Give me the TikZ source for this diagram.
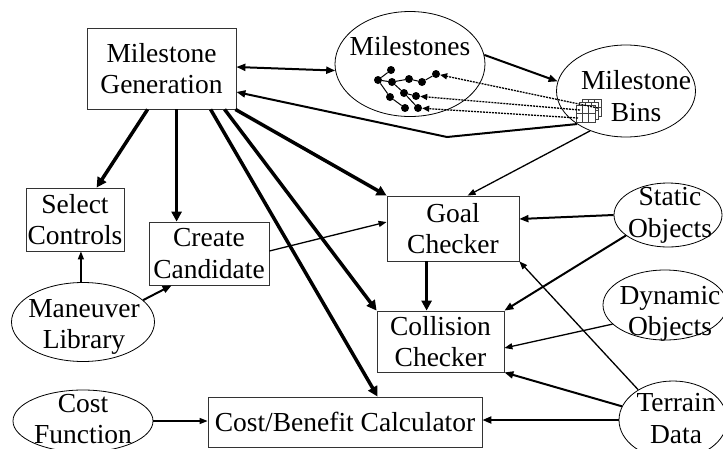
\documentclass[tikz,border=0pt]{standalone}
\usepackage{fontspec}
\setmainfont{Liberation Serif}
\usetikzlibrary{arrows.meta,shapes.geometric}
\begin{document}
\begin{tikzpicture}[x=1pt,y=-1pt,
  every node/.style={font=\fontsize{27.5}{31.5}\selectfont},
  box/.style={draw=black!80,line width=0.8pt,rectangle,inner sep=0pt,align=center},
  oval/.style={draw=black,line width=0.8pt,ellipse,inner sep=0pt},
  txt/.style={inner sep=0pt,align=center},
  thk/.style={line width=3.5pt,-{Triangle[length=10pt,width=10pt]}},
  med/.style={line width=2pt,-{Triangle[length=9pt,width=7pt]}},
  thn/.style={line width=1.3pt,-{Triangle[length=8pt,width=6pt]}},
  msdot/.style={circle,fill=black,inner sep=0pt,minimum size=8pt},
  treeline/.style={line width=1pt},
  binline/.style={draw=black!75,line width=0.7pt},
  dotarrow/.style={line width=1.3pt,dash pattern=on 2pt off 1pt,-{Triangle[length=7pt,width=6pt]}},
]
\clip (0,0) rectangle (723,448);
% boxes
\node[box,minimum width=149pt,minimum height=81pt] (mg) at (161.5,68.5) {Milestone\\Generation};
\node[box,minimum width=98pt,minimum height=63pt] (sc) at (75,219.5) {Select\\Controls};
\node[box,minimum width=120pt,minimum height=63pt] (cc) at (209,253.5) {Create\\Candidate};
\node[box,minimum width=132pt,minimum height=65pt] (gc) at (453,228.5) {Goal\\Checker};
\node[box,minimum width=127pt,minimum height=61pt] (col) at (440.5,341.5) {Collision\\Checker};
\node[box,minimum width=274pt,minimum height=50pt] (cb) at (345,422) {Cost/Benefit Calculator};
% ellipses
\node[oval,minimum width=150pt,minimum height=105pt] (ms) at (410,64) {};
\node[txt,anchor=base] (mstxt) at (410,55) {Milestones};
\node[oval,minimum width=139pt,minimum height=92pt] (bins) at (626,91) {};
\node[txt] (binstxt) at (636,96) {Milestone\\Bins};
\node[oval,minimum width=143pt,minimum height=79pt] (ml) at (83,322) {};
\node[txt] (mltxt) at (84,327) {Maneuver\\Library};
\node[oval,minimum width=140pt,minimum height=62pt] (cf) at (83,421) {};
\node[txt] (cftxt) at (83,419) {Cost\\Function};
\node[oval,minimum width=108pt,minimum height=64pt] (so) at (668,215) {};
\node[txt] (sotxt) at (670,215.5) {Static\\Objects};
\node[oval,minimum width=124pt,minimum height=70pt] (do) at (665,305) {};
\node[txt] (dotxt) at (670,314) {Dynamic\\Objects};
\node[oval,minimum width=108pt,minimum height=78pt] (td) at (673,420) {};
\node[txt] (tdtxt) at (676,418.5) {Terrain\\Data};
% milestone tree
\node[msdot] (t1) at (378,80) {};
\node[msdot] (t2) at (391,70) {};
\node[msdot] (t3) at (392,82) {};
\node[msdot] (t4) at (409,79) {};
\node[msdot] (t5) at (422,82) {};
\node[msdot] (t6) at (436,74) {};
\node[msdot] (t7) at (390,97) {};
\node[msdot] (t8) at (404,93) {};
\node[msdot] (t9) at (416,96) {};
\node[msdot] (t10) at (405,108) {};
\node[msdot] (t11) at (418,108) {};
\draw[treeline] (t1) -- (t2) (t1) -- (t3) (t3) -- (t4) (t4) -- (t5) (t5) -- (t6)
  (t1) -- (t7) (t7) -- (t10) (t3) -- (t8) (t8) -- (t9) (t8) -- (t11);
% bins icon
\foreach \o in {6,3,0}{
  \begin{scope}[shift={(\o,-\o)}]
    \draw[binline,fill=white] (576,105) rectangle (595,122);
    \draw[binline] (582.3,105) -- (582.3,122) (588.7,105) -- (588.7,122) (576,113.5) -- (595,113.5);
  \end{scope}}
\coordinate (b1) at (598,108);
\coordinate (b2) at (580,110);
\coordinate (b3) at (578,118);
\draw[dotarrow] (b1) -- (t6);
\draw[dotarrow] (b2) -- (t9);
\draw[dotarrow] (b3) -- (t11);
% connectors
\draw[line width=2pt,{Triangle[length=9pt,width=7pt]}-{Triangle[length=9pt,width=7pt]}] ([yshift=1.5pt]mg.east) -- (ms.185);
\coordinate (kink) at (447,137);
\draw[med] (bins.214) -- (kink) -- ([yshift=-23.5pt]mg.east);
\draw[med] (ms.7) -- (bins.172);
\draw[thn] (bins.228) -- ([xshift=81pt]gc.north west);
\draw[thk] ([xshift=61pt]mg.south west) -- ([xshift=71pt]sc.north west);
\draw[thk] ([xshift=90pt]mg.south west) -- ([xshift=28pt]cc.north west);
\draw[thk] ([xshift=124pt]mg.south west) -- ([xshift=170pt]cb.north west);
\draw[thk] ([xshift=138pt]mg.south west) -- (col.north west);
\draw[thk] ([xshift=-1pt]mg.south east) -- (gc.north west);
\draw[thn] ([yshift=2.5pt]cc.east) -- ([yshift=6.5pt]gc.west);
\draw[thn] (ml.93) -- (sc.south -| ml.93);
\draw[med] (ml.20) -- ([xshift=23pt]cc.south west);
\draw[thn] (cf.east) -- (cb.west |- cf.east);
\draw[thk] ([xshift=40pt]gc.south west) -- ([xshift=50pt]col.north west);
\draw[med] (so.180) -- ([yshift=9.5pt]gc.east);
\draw[med] (so.206) -- (col.north east);
\draw[thn] (do.200) -- ([yshift=-6.5pt]col.east);
\draw[med] (td.165) -- (col.south east);
\draw[thn] (td.139) -- (gc.south east);
\draw[med] (td.west) -- (cb.east |- td.west);
\end{tikzpicture}
\end{document}
